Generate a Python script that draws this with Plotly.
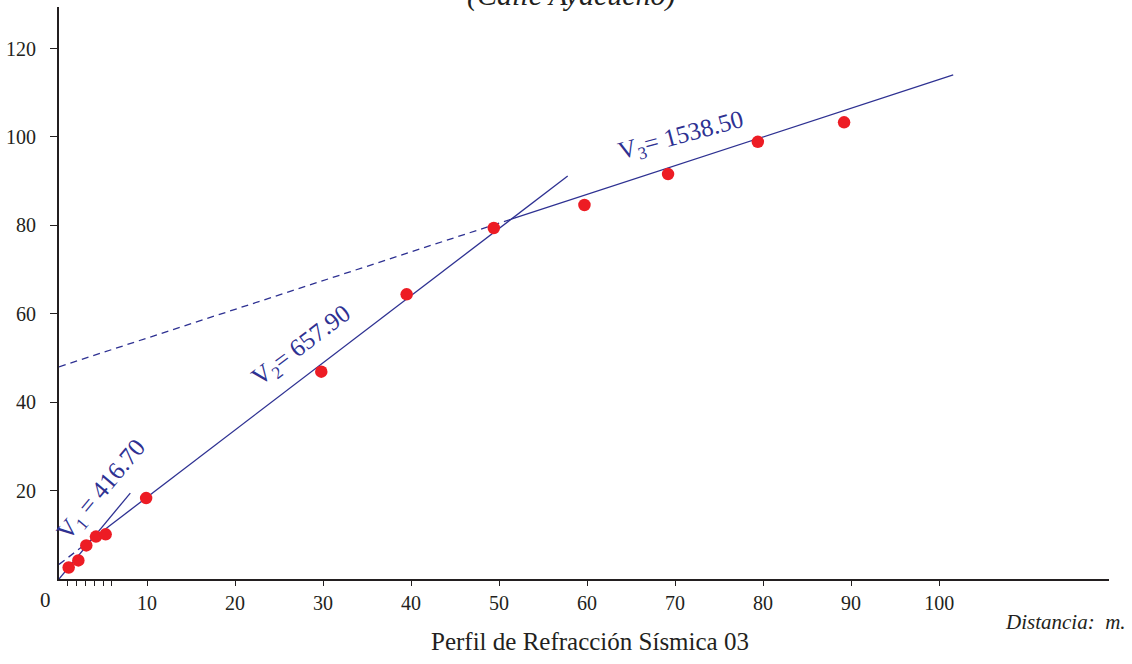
import plotly.graph_objects as go

# Geophone distance (m) and first-arrival time (ms)
distance = [1.1, 2.2, 3.1, 4.2, 5.3, 9.9, 29.8, 39.5, 49.4, 59.7, 69.2, 79.4, 89.2]
arrival = [2.6, 4.2, 7.6, 9.6, 10.1, 18.3, 46.9, 64.4, 79.4, 84.6, 91.6, 98.9, 103.3]

# Layer velocities (m/s), intercept times (ms) and end of each fitted segment (m)
velocities = [416.70, 657.90, 1538.50]
intercepts = [0.0, 3.3, 48.0]
segment_end = [8.1, 57.8, 101.6]

x_ticks = [1, 2, 3, 4, 5, 6, 10, 20, 30, 40, 50, 60, 70, 80, 90, 100]
x_tick_text = ["", "", "", "", "", "", "10", "20", "30", "40", "50", "60", "70", "80", "90", "100"]
y_ticks = [20, 40, 60, 80, 100, 120]

LINE = "#2E3192"
DOT = "#ED1C24"
AXIS = "#231F20"
SERIF = "Liberation Serif, Times New Roman, serif"

# plot area in pixels, used to place the free-standing captions
PLOT_LEFT, PLOT_W, PLOT_BOTTOM, PLOT_H = 59, 1050, 579, 572


def px_x(p):
    return (p - PLOT_LEFT) / PLOT_W


def px_y(p):
    return (PLOT_BOTTOM - p) / PLOT_H


def travel_time(x, k):
    return intercepts[k] + 1000.0 * x / velocities[k]


def crossover(a, b):
    return (intercepts[b] - intercepts[a]) / (1000.0 / velocities[a] - 1000.0 / velocities[b])


fig = go.Figure()


def add_segment(x0, x1, k, dash):
    xs = [x0, x1]
    fig.add_trace(go.Scatter(
        x=xs, y=[travel_time(v, k) for v in xs], mode="lines",
        line=dict(color=LINE, width=1.3, dash=dash),
        hoverinfo="skip", showlegend=False,
    ))


x12 = crossover(0, 1)
x23 = crossover(1, 2)

add_segment(0, segment_end[0], 0, "solid")
add_segment(0, x12, 1, "7px,5px")
add_segment(x12, segment_end[1], 1, "solid")
add_segment(0, x23, 2, "7px,5px")
add_segment(x23, segment_end[2], 2, "solid")

fig.add_trace(go.Scatter(
    x=distance, y=arrival, mode="markers",
    marker=dict(color=DOT, size=12.5, line=dict(width=0)),
    showlegend=False,
))

# Velocity labels along each segment
labels = [
    (f"V<sub>1</sub> = {velocities[0]:.2f}", 4.9, 20.1, -50),
    (f"V<sub>2</sub>= {velocities[1]:.2f}", 27.6, 52.6, -37),
    (f"V<sub>3</sub>= {velocities[2]:.2f}", 70.7, 100.1, -15),
]
for text, lx, ly, ang in labels:
    fig.add_annotation(x=lx, y=ly, xref="x", yref="y", text=text, showarrow=False,
                       textangle=ang, font=dict(family=SERIF, size=25, color=LINE))

fig.add_annotation(x=px_x(45), y=px_y(600), xref="paper", yref="paper",
                   xanchor="center", yanchor="middle", text="0",
                   showarrow=False, font=dict(family=SERIF, size=21, color=AXIS))
fig.add_annotation(x=px_x(1128), y=px_y(622), xref="paper", yref="paper",
                   xanchor="right", yanchor="middle",
                   text="<i>Distancia:&nbsp; m.</i>", showarrow=False,
                   font=dict(family=SERIF, size=21, color=AXIS))
fig.add_annotation(x=px_x(590), y=px_y(641), xref="paper", yref="paper",
                   xanchor="center", yanchor="middle",
                   text="Perfil de Refracción Sísmica 03", showarrow=False,
                   font=dict(family=SERIF, size=25, color=AXIS))
fig.add_annotation(x=px_x(571), y=px_y(-5), xref="paper", yref="paper",
                   xanchor="center", yanchor="middle",
                   text="<i>(Calle Ayacucho)</i>", showarrow=False,
                   font=dict(family=SERIF, size=30, color=AXIS))

fig.update_layout(
    width=1132, height=664,
    margin=dict(l=59, r=23, t=7, b=85),
    paper_bgcolor="white", plot_bgcolor="white",
    xaxis=dict(
        range=[0, 119.3], showgrid=False, zeroline=False,
        showline=True, linecolor=AXIS, linewidth=2,
        tickmode="array", tickvals=x_ticks, ticktext=x_tick_text,
        ticks="outside", ticklen=5, tickwidth=1, tickcolor=AXIS,
        tickfont=dict(family=SERIF, size=20, color=AXIS),
    ),
    yaxis=dict(
        range=[0, 129.4], showgrid=False, zeroline=False,
        showline=True, linecolor=AXIS, linewidth=2,
        tickmode="array", tickvals=y_ticks,
        ticks="outside", ticklen=7, tickwidth=1, tickcolor=AXIS,
        ticklabelstandoff=10,
        tickfont=dict(family=SERIF, size=20, color=AXIS),
    ),
)

fig.write_html("out.html")
